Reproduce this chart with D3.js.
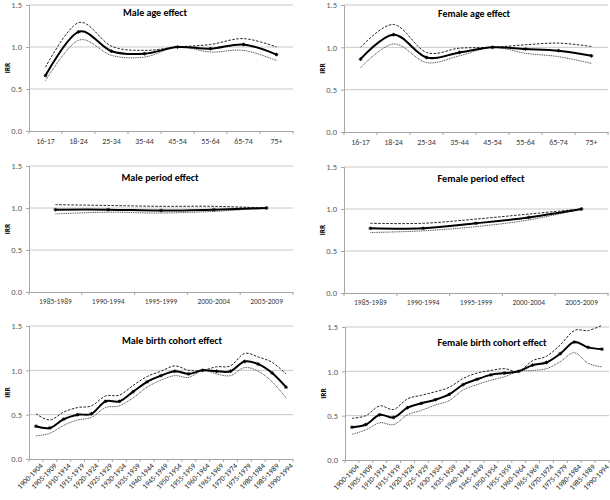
<!DOCTYPE html>
<html>
<head>
<meta charset="utf-8">
<script src="https://cdn.jsdelivr.net/npm/d3@7"></script>
<style>
html,body{margin:0;padding:0;background:#fff;}
svg{display:block;}
text{font-family:Carlito, Lato, "Liberation Sans", sans-serif;}
</style>
</head>
<body>
<svg id="chart" width="610" height="500"></svg>
<script>
// ---------- DATA ----------
const ageCats = ["16-17","18-24","25-34","35-44","45-54","55-64","65-74","75+"];
const maleAgeIRR   = [0.66,1.18,0.95,0.92,1.00,0.98,1.03,0.91];
const maleAgeUpper = [0.76,1.29,1.01,0.96,1.00,1.03,1.10,1.00];
const maleAgeLower = [0.60,1.08,0.90,0.88,1.00,0.94,0.96,0.84];

const femaleAgeIRR   = [0.86,1.15,0.88,0.94,1.00,0.98,0.96,0.90];
const femaleAgeUpper = [1.00,1.27,0.94,0.99,1.00,1.03,1.05,1.01];
const femaleAgeLower = [0.76,1.04,0.82,0.90,1.00,0.93,0.89,0.81];

const periodCats = ["1985-1989","1990-1994","1995-1999","2000-2004","2005-2009"];
const malePeriodIRR   = [0.98,0.98,0.97,0.98,1.00];
const malePeriodUpper = [1.04,1.03,1.02,1.02,1.00];
const malePeriodLower = [0.93,0.95,0.94,0.96,1.00];

const femalePeriodIRR   = [0.77,0.77,0.83,0.90,1.00];
const femalePeriodUpper = [0.83,0.83,0.88,0.94,1.00];
const femalePeriodLower = [0.72,0.74,0.79,0.87,1.00];

const cohortCats = ["1900-1904","1905-1909","1910-1914","1915-1919","1920-1924","1925-1929",
  "1930-1934","1935-1939","1940-1944","1945-1949","1950-1954","1955-1959","1960-1964",
  "1965-1969","1970-1974","1975-1979","1980-1984","1985-1989","1990-1994"];
const maleCohortIRR   = [0.37,0.35,0.45,0.50,0.51,0.65,0.65,0.76,0.87,0.94,0.99,0.96,1.00,0.99,0.99,1.10,1.07,0.97,0.81];
const maleCohortUpper = [0.51,0.44,0.53,0.58,0.60,0.71,0.72,0.83,0.93,0.99,1.05,1.00,1.00,1.04,1.05,1.19,1.15,1.09,0.96];
const maleCohortLower = [0.26,0.29,0.38,0.44,0.47,0.58,0.60,0.69,0.81,0.89,0.94,0.92,1.00,0.96,0.94,1.03,0.99,0.87,0.69];

const femaleCohortIRR   = [0.37,0.40,0.51,0.48,0.59,0.64,0.68,0.74,0.85,0.91,0.96,0.98,1.00,1.07,1.10,1.20,1.33,1.27,1.25];
const femaleCohortUpper = [0.47,0.50,0.61,0.57,0.69,0.73,0.77,0.82,0.92,0.98,1.01,1.03,1.00,1.12,1.17,1.30,1.46,1.46,1.52];
const femaleCohortLower = [0.29,0.34,0.42,0.40,0.51,0.56,0.62,0.67,0.79,0.85,0.90,0.94,1.00,1.01,1.03,1.11,1.21,1.09,1.05];

const yTicks = [0.0, 0.5, 1.0, 1.5];

// ---------- DRAW ----------
const svg = d3.select("#chart");
const FONT = "Carlito, Lato, 'Liberation Sans', sans-serif";

function panel(o) {
  const g = svg.append("g");
  const x = d3.scaleBand().domain(o.cats).range([o.left, o.right]).padding(0);
  const y = d3.scaleLinear().domain([0, 1.5]).range([o.bottom, o.top]);

  // gridlines
  g.selectAll(".grid").data(yTicks.filter(t => t > 0)).join("line")
    .attr("x1", o.left).attr("x2", o.right)
    .attr("y1", d => y(d)).attr("y2", d => y(d))
    .attr("stroke", "#c8c8c8").attr("stroke-width", 1);

  // y axis
  const ya = d3.axisLeft(y).tickValues(yTicks).tickFormat(d3.format(".1f")).tickSize(3).tickPadding(4);
  const yg = g.append("g").attr("transform", `translate(${o.left},0)`).call(ya);
  yg.select(".domain").attr("stroke", "#a6a6a6");
  yg.selectAll(".tick line").attr("stroke", "#a6a6a6");
  yg.selectAll(".tick text").attr("fill", "#595959").style("font-size", "8.5px").style("font-family", FONT);

  // x axis
  const xa = d3.axisBottom(x).tickSize(0).tickPadding(o.rotate ? 4 : 7);
  const xg = g.append("g").attr("transform", `translate(0,${o.bottom})`).call(xa);
  xg.select(".domain").attr("stroke", "#a6a6a6");
  xg.selectAll(".tick text").attr("fill", o.rotate ? "#222" : "#404040")
    .style("font-size", o.xFont + "px").style("font-family", FONT);
  if (o.rotate) {
    xg.selectAll(".tick text")
      .attr("text-anchor", "end")
      .attr("dy", "0.3em")
      .attr("transform", "translate(3,3) rotate(-45)");
  }
  // boundary ticks
  const bounds = o.cats.map(c => x(c)).concat([o.right]);
  g.selectAll(".bt").data(bounds).join("line")
    .attr("x1", d => d).attr("x2", d => d)
    .attr("y1", o.bottom).attr("y2", o.bottom + 3)
    .attr("stroke", "#a6a6a6");

  const cx = c => x(c) + x.bandwidth() / 2;
  const mk = arr => o.cats.map((c, i) => [cx(c), y(arr[i])]);
  const line = d3.line().curve(d3.curveCardinal.tension(0));

  g.append("path").attr("d", line(mk(o.upper))).attr("fill", "none")
    .attr("stroke", "#222").attr("stroke-width", 1).attr("stroke-dasharray", "2.5,1.5");
  g.append("path").attr("d", line(mk(o.lower))).attr("fill", "none")
    .attr("stroke", "#333").attr("stroke-width", 0.9).attr("stroke-dasharray", "1,0.8");
  g.append("path").attr("d", line(mk(o.irr))).attr("fill", "none")
    .attr("stroke", "#000").attr("stroke-width", 2);

  // markers
  const s = 1.8;
  g.selectAll(".mk").data(mk(o.irr)).join("path")
    .attr("d", d => `M${d[0]-s},${d[1]}L${d[0]+s},${d[1]}M${d[0]},${d[1]-s}L${d[0]},${d[1]+s}` +
      `M${d[0]-s*0.7},${d[1]-s*0.7}L${d[0]+s*0.7},${d[1]+s*0.7}M${d[0]-s*0.7},${d[1]+s*0.7}L${d[0]+s*0.7},${d[1]-s*0.7}`)
    .attr("stroke", "#000").attr("stroke-width", 0.9);

  // title
  g.append("text").attr("x", o.titleX).attr("y", o.titleY)
    .attr("text-anchor", "middle").attr("dominant-baseline", "middle")
    .attr("textLength", o.titleW).attr("lengthAdjust", "spacingAndGlyphs")
    .style("font-size", "10.5px").style("font-weight", "bold").attr("fill", "#000")
    .text(o.title);

  // y label
  g.append("text")
    .attr("transform", `translate(${o.left - 21},${y(0.75)}) rotate(-90)`)
    .attr("text-anchor", "middle").attr("dominant-baseline", "middle")
    .style("font-size", "7.5px").style("font-weight", "bold").attr("fill", "#000")
    .text("IRR");
}

panel({cats: ageCats, irr: maleAgeIRR, upper: maleAgeUpper, lower: maleAgeLower,
  left: 29, right: 293, top: 5, bottom: 131, title: "Male age effect", titleX: 155, titleY: 13, titleW: 64, xFont: 8});
panel({cats: ageCats, irr: femaleAgeIRR, upper: femaleAgeUpper, lower: femaleAgeLower,
  left: 344, right: 608, top: 5, bottom: 132, title: "Female age effect", titleX: 474, titleY: 14, titleW: 72, xFont: 8});
panel({cats: periodCats, irr: malePeriodIRR, upper: malePeriodUpper, lower: malePeriodLower,
  left: 29, right: 293, top: 166, bottom: 292, title: "Male period effect", titleX: 160, titleY: 178, titleW: 77, xFont: 7.5});
panel({cats: periodCats, irr: femalePeriodIRR, upper: femalePeriodUpper, lower: femalePeriodLower,
  left: 344, right: 608, top: 167, bottom: 293, title: "Female period effect", titleX: 481, titleY: 179, titleW: 87, xFont: 7.5});
panel({cats: cohortCats, irr: maleCohortIRR, upper: maleCohortUpper, lower: maleCohortLower,
  left: 29, right: 293, top: 326, bottom: 459, title: "Male birth cohort effect", titleX: 172, titleY: 341, titleW: 100, xFont: 7.5, rotate: true});
panel({cats: cohortCats, irr: femaleCohortIRR, upper: femaleCohortUpper, lower: femaleCohortLower,
  left: 345, right: 609, top: 327, bottom: 460, title: "Female birth cohort effect", titleX: 492, titleY: 343, titleW: 109, xFont: 7.5, rotate: true});
</script>
</body>
</html>
